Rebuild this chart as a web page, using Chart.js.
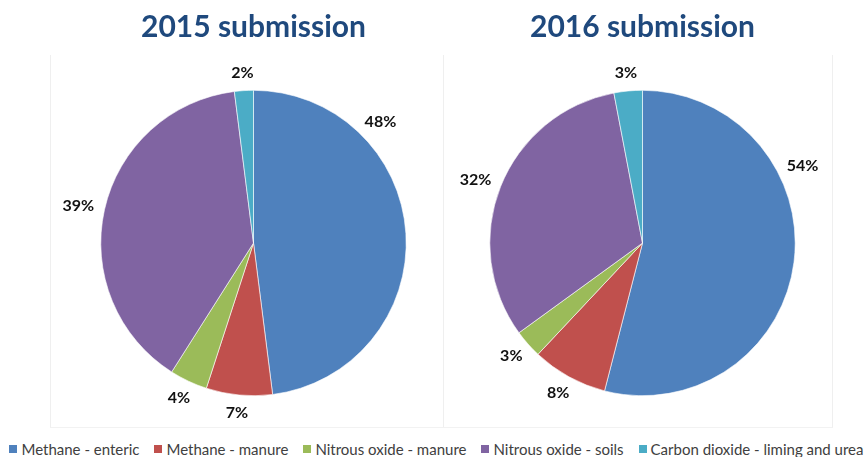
<!DOCTYPE html>
<html>
<head>
<meta charset="utf-8">
<script src="https://cdn.jsdelivr.net/npm/chart.js@4"></script>
<style>
  html, body { margin: 0; padding: 0; background: #fff; }
  #wrap { position: relative; width: 865px; height: 457px; overflow: hidden; }
  .frame { position: absolute; top: 55px; height: 373px; border-left: 1px solid #efefef; border-right: 1px solid #efefef; border-bottom: 1px solid #f2f2f2; box-sizing: border-box; }
  .cv { position: absolute; top: 0; }
  #legend { position: absolute; left: 4px; top: 440px; width: 865px; display: flex; justify-content: center; gap: 15px; font-family: Lato, "Open Sans", sans-serif; font-size: 15px; color: #404040; white-space: nowrap; }
  #legend .it { display: flex; align-items: center; }
  #legend .sw { width: 8px; height: 8px; margin-right: 4px; }
</style>
</head>
<body>
<div id="wrap">
  <div class="frame" style="left:50px;width:394px;"></div>
  <div class="frame" style="left:443px;width:390px;border-left:none;"></div>
  <div class="cv" style="left:20px;width:467px;height:430px;"><canvas id="c1"></canvas></div>
  <div class="cv" style="left:450px;width:385px;height:430px;"><canvas id="c2"></canvas></div>
  <div id="legend"></div>
</div>
<script>
const categories = ["Methane - enteric", "Methane - manure", "Nitrous oxide - manure", "Nitrous oxide - soils", "Carbon dioxide - liming and urea"];
const values2015 = [48, 7, 4, 39, 2];
const values2016 = [54, 8, 3, 32, 3];
const titles = ["2015 submission", "2016 submission"];
const colors = ["#4F81BD", "#C0504D", "#9BBB59", "#8064A2", "#4BACC6"];

const outsideLabels = {
  id: 'outsideLabels',
  afterDatasetsDraw(chart, args, opts) {
    const ctx = chart.ctx;
    const meta = chart.getDatasetMeta(0);
    const data = chart.data.datasets[0].data;
    const total = data.reduce((a, b) => a + b, 0);
    ctx.save();
    ctx.font = opts.font;
    ctx.fillStyle = opts.color;
    ctx.textAlign = 'center';
    ctx.textBaseline = 'middle';
    meta.data.forEach((arc, i) => {
      const p = arc.getProps(['x', 'y', 'startAngle', 'endAngle', 'outerRadius'], true);
      let ang = (p.startAngle + p.endAngle) / 2;
      const ov = (opts.angleOverride || {})[i];
      if (ov !== undefined) ang = ov * Math.PI / 180 - Math.PI / 2;
      const txt = Math.round(data[i] / total * 100) + '%';
      const w = ctx.measureText(txt).width;
      const h = 14;
      const ux = Math.cos(ang), uy = Math.sin(ang);
      const d = p.outerRadius + opts.gap;
      const x = p.x + ux * d + ux * w / 2;
      const y = p.y + uy * d + uy * h / 2;
      ctx.fillText(txt, x, y);
    });
    ctx.restore();
  }
};

function makeChart(id, title, values, override) {
  return new Chart(document.getElementById(id), {
    type: 'pie',
    data: {
      labels: categories,
      datasets: [{ data: values, backgroundColor: colors, borderColor: '#ffffff', borderWidth: 0.6 }]
    },
    options: {
      responsive: true,
      maintainAspectRatio: false,
      animation: false,
      layout: { padding: { top: 0, bottom: 34, left: 0, right: 0 } },
      plugins: {
        legend: { display: false },
        tooltip: { enabled: false },
        title: {
          display: true,
          text: title,
          color: '#1F497D',
          font: { family: 'Lato, "Open Sans", sans-serif', size: 30, weight: 'bold', lineHeight: 1.2 },
          padding: { top: 9, bottom: 45 }
        },
        outsideLabels: {
          font: 'bold 16px Lato, "Open Sans", sans-serif',
          color: '#111111',
          gap: 11,
          angleOverride: override
        }
      }
    },
    plugins: [outsideLabels]
  });
}

makeChart('c1', titles[0], values2015, { 0: 45 });
makeChart('c2', titles[1], values2016, { 0: 63 });

const lg = document.getElementById('legend');
categories.forEach((c, i) => {
  const it = document.createElement('div');
  it.className = 'it';
  const sw = document.createElement('span');
  sw.className = 'sw';
  sw.style.background = colors[i];
  const t = document.createElement('span');
  t.textContent = c;
  it.appendChild(sw); it.appendChild(t);
  lg.appendChild(it);
});
</script>
</body>
</html>
